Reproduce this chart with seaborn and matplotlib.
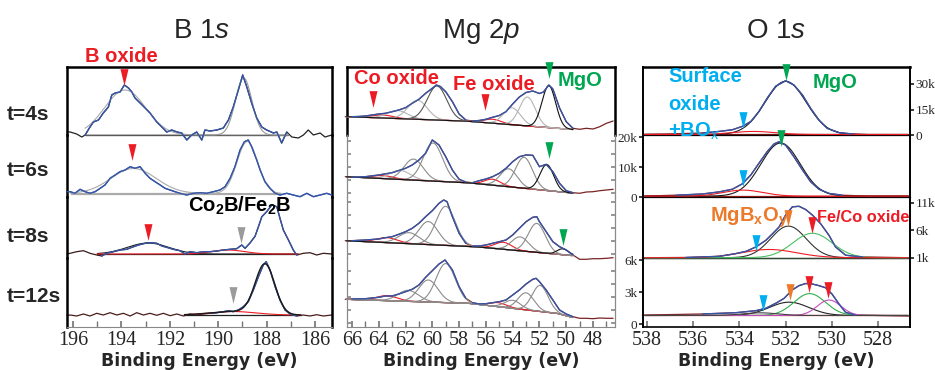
import numpy as np
import matplotlib
matplotlib.use("Agg")
import matplotlib.pyplot as plt
import seaborn as sns
from matplotlib.transforms import offset_copy
from matplotlib.font_manager import FontProperties

# ---------------- B 1s: binding energy (eV) / intensity (arb., px above row floor)
B4_E = [196.25, 196.12, 195.85, 195.64, 195.5, 195.3, 195.16, 194.95, 194.75, 194.54, 194.4, 194.26, 194.06,
        193.88, 193.71, 193.57, 193.44, 193.23, 193.02, 192.82, 192.54, 192.33, 192.13, 191.92, 191.71, 191.51,
        191.3, 191.1, 190.89, 190.68, 190.55, 190.34, 190.06, 189.79, 189.58, 189.38, 189.17, 188.99, 188.82,
        188.62, 188.41, 188.2, 188.0, 187.72, 187.58, 187.38, 187.17, 186.96, 186.69, 186.48, 186.28, 186.07,
        185.79, 185.59, 185.31]
B4_I = [3, 3, 1, -2, 0, 8, 13, 15, 22, 28, 40, 42, 43, 50, 47, 43, 37, 32, 27, 22, 13, 8, 3, 5, 3, 2, -5, 0, 3,
        -5, 5, 4, 5, 7, 15, 28, 45, 60, 48, 32, 17, 8, 5, 2, 3, -8, 3, -2, -3, 0, 5, 0, 2, -2, 0]
B6_E = [196.25, 196.12, 195.92, 195.71, 195.5, 195.3, 195.09, 194.88, 194.68, 194.47, 194.26, 194.06, 193.85,
        193.64, 193.44, 193.23, 193.02, 192.82, 192.61, 192.4, 192.2, 191.99, 191.79, 191.58, 191.3, 191.03,
        190.75, 190.48, 190.2, 189.93, 189.72, 189.51, 189.31, 189.1, 188.92, 188.76, 188.62, 188.41, 188.27,
        188.07, 187.86, 187.65, 187.45, 187.17, 186.9, 186.62, 186.34, 186.07, 185.79, 185.52, 185.31]
B6_I = [5.3, 5.3, 3.7, 7.7, 5.3, 3.7, 5.3, 8.7, 12, 18.7, 22, 25.3, 27, 30.3, 28.7, 30.3, 23.7, 18.7, 15.3, 12,
        8.7, 7, 5.3, 3.7, 2, 3.7, 4.3, 3.7, 5.3, 7, 10.3, 18.7, 30.3, 47, 55.3, 57, 50.3, 37, 27, 15.3, 8.7, 3.7,
        2, 3.7, 2, 0.3, 3.7, 0.3, 2, 3.7, 2]
B8_E = [196.25, 196.12, 195.85, 195.57, 195.3, 195.02, 194.81, 194.61, 194.33, 194.06, 193.78, 193.57, 193.3,
        193.02, 192.82, 192.54, 192.33, 192.13, 191.86, 191.58, 191.37, 191.17, 190.89, 190.62, 190.34, 190.06,
        189.79, 189.51, 189.24, 189.03, 188.89, 188.69, 188.48, 188.34, 188.2, 188.0, 187.79, 187.58, 187.45,
        187.31, 187.1, 186.9, 186.76, 186.48, 186.21, 185.93, 185.66, 185.31]
B8_I = [4, 4.7, 6.3, 7.3, 4.7, 3, 2, 4.7, 6.3, 8, 8.7, 10.7, 13, 14.7, 15.3, 14.7, 12, 10.7, 8.7, 7.3, 4, 6.3,
        5.3, 6.3, 6.3, 7, 8, 8.7, 9.3, 13, 9.7, 15, 21.7, 31.3, 41.3, 46.3, 53, 51.3, 39.7, 28, 18, 8, 3, 4.7,
        5.3, 3, 4.7, 4]
B12_E = [196.25, 196.12, 195.85, 195.57, 195.3, 195.02, 194.75, 194.47, 194.19, 193.92, 193.64, 193.37, 193.09,
         192.82, 192.54, 192.27, 191.99, 191.71, 191.44, 191.17, 190.89, 190.62, 190.34, 190.06, 189.79, 189.58,
         189.38, 189.17, 188.96, 188.76, 188.55, 188.34, 188.14, 188.02, 187.86, 187.65, 187.45, 187.24, 187.03,
         186.76, 186.5, 186.21, 185.93, 185.66, 185.31]
B12_I = [11.5, 12, 11, 13, 11, 13.7, 12, 14.3, 12, 13.7, 11, 14.3, 12, 13.7, 11.7, 13.7, 11.3, 13, 11, 13, 12, 13,
         13.7, 14.3, 15.3, 16.3, 15.3, 17, 20.3, 25.3, 37, 50.3, 62, 65.3, 57, 40.3, 27, 17, 13, 11, 12, 11, 12.3,
         11, 12]
# fitted peaks: (centre eV, height, FWHM eV, colour)
B4_FIT = [(193.85, 45, 2.0, "#aaaaaa"), (188.95, 57, 0.8, "#999999")]
B6_FIT = [(193.5, 25, 2.2, "#aaaaaa"), (188.8, 52, 1.0, "#aaaaaa")]
B8_FIT = [(192.9, 11, 2.0, "#222222"), (189.6, 4, 1.6, "#ec1c24")]
B12_FIT = [(188.07, 50, 0.95, None), (189.4, 3.5, 2.2, "#ec1c24")]

# ---------------- Mg 2p
M1_E = [66.5, 66.0, 65.5, 65.0, 64.5, 64.0, 63.5, 63.0, 62.5, 62.0, 61.5, 61.0, 60.5, 60.0, 59.7, 59.4, 59.0,
        58.5, 58.0, 57.5, 57.0, 56.5, 56.0, 55.5, 55.0, 54.5, 54.0, 53.5, 53.0, 52.5, 52.0, 51.7, 51.3, 51.0,
        50.5, 50.0, 49.5, 49.0, 48.5, 48.0, 47.5, 47.0, 46.5]
M1_I = [18.3, 18.3, 18.5, 19, 20, 21, 21.7, 23.3, 25, 27.3, 31.7, 35.7, 41.7, 46.7, 50, 48.5, 43.3, 33.3, 21, 15,
        14, 14.5, 15.7, 17.7, 19.5, 23.3, 31, 38, 42.5, 44, 41.5, 43, 50, 46, 27, 13.3, 6.7, 5.7, 6.7, 6, 8.3,
        11.7, 14]
M2_E = [66.5, 66.0, 65.0, 64.0, 63.0, 62.0, 61.5, 61.0, 60.5, 60.0, 59.5, 59.0, 58.5, 58.0, 57.5, 57.0, 56.5,
        56.0, 55.5, 55.0, 54.5, 54.0, 53.5, 53.0, 52.5, 52.0, 51.5, 51.0, 50.5, 50.0, 49.5, 49.0, 48.5, 48.0,
        47.5, 47.0, 46.5]
M2_I = [20.3, 19.7, 20.3, 22, 24.3, 28.7, 32, 37, 43.7, 57, 52, 40.3, 27, 17.7, 15, 14.3, 16.3, 18, 20.3, 23.7,
        28.7, 35.3, 40.3, 42, 41.7, 30.3, 32.7, 25.3, 13.7, 6.3, 4.3, 3.7, 5, 5.3, 6.3, 7, 7.7]
M3_E = [66.5, 66.0, 65.0, 64.0, 63.5, 63.0, 62.5, 62.0, 61.5, 61.0, 60.5, 60.0, 59.5, 59.15, 58.9, 58.5, 58.0,
        57.5, 57.0, 56.5, 56.0, 55.5, 55.0, 54.5, 54.0, 53.5, 53.0, 52.5, 52.2, 52.0, 51.5, 51.0, 50.5, 50.0,
        49.5, 49.0, 48.5, 48.0, 47.5, 47.0, 46.5]
M3_I = [17.3, 17.3, 18, 19, 20.3, 21.3, 23.7, 26.3, 29.7, 34.7, 41.3, 47.3, 54.7, 58, 56.3, 41.3, 24.7, 14.7, 12,
        12, 13, 14.7, 16.3, 18, 23, 29.7, 36.3, 40.7, 41.3, 36.3, 26.3, 16.3, 11.3, 8, 3, -1.3, -1.3, -0.7, -0.7,
        -0.3, 0.3]
M4_E = [66.5, 66.0, 65.0, 64.0, 63.5, 63.0, 62.5, 62.0, 61.5, 61.0, 60.5, 60.0, 59.5, 59.05, 58.5, 58.0, 57.5,
        57.0, 56.5, 56.0, 55.5, 55.0, 54.5, 54.0, 53.5, 53.0, 52.5, 52.25, 52.0, 51.5, 51.0, 50.5, 50.0, 49.5,
        49.0, 48.5, 48.0, 47.5, 47.0, 46.5]
M4_I = [27.7, 28, 28.3, 29.7, 31, 31, 33, 35.3, 37.7, 42, 49.7, 56.3, 63, 67, 57, 40.3, 28.7, 24.3, 23, 23.3,
        24.3, 25.3, 27, 32, 37, 43, 47.7, 48.7, 45.3, 37, 27, 17, 13, 10.3, 8.7, 8.7, 8.3, 9, 8.7, 8.7]
# background anchors (eV, intensity)
M1_BG = [(66.5, 18.4), (57.6, 14), (49.6, 5.5)]
M2_BG = [(66.5, 20.3), (57.4, 14.3), (49.6, 4)]
M3_BG = [(66.5, 17.3), (56.8, 11.3), (49.7, 2.5)]
M4_BG = [(66.5, 27.7), (57.3, 23.7), (50.7, 13.7), (49.5, 9.5)]
LG, MG, DG, K, R = "#b4b4b4", "#8c8c8c", "#555555", "#111111", "#ec1c24"
M1_FIT = [(63.7, 3, 1.8, R), (62.6, 8, 1.8, LG), (61.1, 19, 1.7, LG), (59.65, 34, 1.7, DG),
          (55.5, 4, 1.5, R), (54.05, 17, 1.5, LG), (52.9, 29, 1.4, LG), (51.3, 42, 1.2, K)]
M2_FIT = [(63.7, 3, 1.8, R), (62.4, 9, 1.8, LG), (61.4, 21, 1.7, MG), (59.95, 38, 1.7, MG),
          (55.5, 6, 1.4, R), (54.3, 18, 1.5, MG), (53.15, 31, 1.5, MG), (51.45, 26, 1.2, K)]
M3_FIT = [(63.4, 5, 1.8, R), (61.75, 11, 1.8, MG), (60.3, 23, 1.7, MG), (59.0, 39, 1.7, MG),
          (54.7, 7, 1.5, R), (53.45, 14, 1.5, MG), (52.2, 29, 1.5, MG), (50.25, 6, 1.0, K)]
M4_FIT = [(63.4, 5, 1.8, R), (61.8, 11, 1.8, MG), (60.3, 22, 1.7, MG), (59.0, 39, 1.7, MG),
          (55.1, 4, 1.5, R), (54.0, 8, 1.4, MG), (53.0, 17, 1.4, MG), (51.95, 26, 1.4, MG)]

# ---------------- O 1s (counts, thousands)
O1_E = [538.19, 537.04, 535.6, 534.88, 534.3, 533.87, 533.5, 533.15, 532.79, 532.43, 532.0, 531.64, 531.27,
        530.92, 530.56, 530.2, 529.69, 529.11, 528.4, 527.53, 526.67]
O1_I = [0.4, 0.6, 1.2, 2.1, 3.1, 5.1, 8.0, 13.9, 21.8, 28.7, 31.9, 29.4, 23.5, 15.7, 8.8, 3.9, 1.4, 0.6, 0.2, 0, 0]
O2_E = [538.19, 536.75, 535.6, 534.88, 534.3, 533.87, 533.5, 533.15, 532.79, 532.5, 532.29, 532.0, 531.64,
        531.27, 530.92, 530.56, 530.13, 529.55, 528.4, 526.67]
O2_I = [0.3, 0.6, 1.0, 1.7, 2.6, 4.4, 7.4, 11.3, 15.2, 17.7, 18.4, 17.3, 13.4, 9.0, 5.1, 2.6, 1.2, 0.6, 0.3, 0.3]
O3_E = [538.2, 536.32, 534.88, 534.16, 533.72, 533.29, 532.86, 532.57, 532.29, 532.0, 531.71, 531.42, 531.13,
        530.84, 530.48, 530.12, 529.84, 529.4, 528.68, 526.67]
O3_I = [1.05, 1.1, 1.3, 1.8, 2.2, 3.0, 4.2, 5.4, 6.6, 8.8, 10.3, 10.4, 9.8, 8.8, 7.2, 5.1, 3.0, 1.5, 1.2, 1.05]
O4_E = [538.2, 535.6, 534.16, 533.29, 532.86, 532.43, 532.07, 531.71, 531.42, 531.13, 530.84, 530.56, 530.27,
        529.99, 529.7, 529.41, 528.98, 526.67]
O4_I = [0.84, 0.94, 1.06, 1.25, 1.47, 1.94, 2.4, 3.2, 3.6, 3.8, 3.75, 3.6, 3.4, 2.8, 1.9, 1.1, 0.84, 0.75]
O1_FIT = [(532.0, 31.3, 2.1, "#1a1a2a"), (533.4, 1.8, 2.2, R)]
O2_FIT = [(532.22, 17.7, 2.0, "#1a1a1a"), (533.85, 2.0, 2.0, R)]
O3_FIT = [(531.88, 5.75, 1.8, "#333333"), (530.84, 4.45, 2.0, "#49c060"), (532.72, 1.5, 2.8, R)]
O4_FIT = [(531.85, 1.25, 2.0, "#222222"), (530.96, 2.05, 1.6, "#2fb04a"), (530.12, 1.45, 1.2, "#c04cc0"),
          (533.1, 0.25, 1.8, "#444444")]
O_TICKS = [[0, 15, 30], [0, 10, 20], [1, 6, 11], [0, 3, 6]]

# peak markers: (row, energy, tip height, colour)
B_MARKS = [(0, 193.88, 50, R), (1, 193.56, 37, R), (2, 192.89, 18, R), (2, 189.07, 15, "#9b9b9b"),
           (3, 189.4, 24, "#9b9b9b")]
M_MARKS = [(0, 64.4, 28, R), (0, 56.1, 25, R), (0, 51.3, 57, "#00a651"), (1, 51.3, 39, "#00a651"),
           (2, 50.25, 13, "#00a651")]
O_MARKS = [(0, 533.84, 3.9, "#00aeef"), (0, 532.0, 32.3, "#00a651"), (1, 533.84, 3.4, "#00aeef"),
           (1, 532.22, 17.0, "#00a651"), (2, 533.29, 2.15, "#00aeef"), (2, 531.88, 6.7, "#ec7a2a"),
           (2, 530.84, 5.4, R), (3, 532.97, 1.15, "#00aeef"), (3, 531.82, 2.25, "#ec7a2a"),
           (3, 531.0, 3.0, R), (3, 530.15, 2.4, R)]

sns.set_theme(style="white")
plt.rcParams["font.family"] = ["Liberation Sans", "DejaVu Sans"]
plt.rcParams["font.serif"] = ["Liberation Serif", "DejaVu Serif"]
plt.rcParams["mathtext.fontset"] = "custom"
plt.rcParams["mathtext.rm"] = "Liberation Sans"
plt.rcParams["mathtext.it"] = "Liberation Sans:italic"
plt.rcParams["mathtext.bf"] = "Liberation Sans:bold"

BLUE = "#3556a8"
W, H = 935, 370
TRI = [(-0.24, 0.5), (0.24, 0.5), (0, -0.5)]
ROWS = [(67, 135), (135, 197), (197, 258), (258, 327)]
SERIF = ["Liberation Serif", "DejaVu Serif", "serif"]
XTICK_FONT = FontProperties(family=SERIF, size=14.5)
YTICK_FONT = FontProperties(family=SERIF, size=9.5)

fig = plt.figure(figsize=(W / 100, H / 100), dpi=100)


def add_row(x0, x1, r):
    y0, y1 = ROWS[r]
    ax = fig.add_axes([x0 / W, 1 - y1 / H, (x1 - x0) / W, (y1 - y0) / H])
    ax.set_facecolor("none")
    return ax


def gauss(e, c, h, w):
    return h * np.exp(-4 * np.log(2) * ((e - c) / w) ** 2)


def line(ax, x, y, color, lw, z=3):
    sns.lineplot(x=np.asarray(x, float), y=np.asarray(y, float), ax=ax, color=color, linewidth=lw,
                 estimator=None, sort=False, clip_on=False, zorder=z)


def mark(ax, e, tip, color):
    tr = offset_copy(ax.transData, fig=fig, x=0, y=8.5, units="dots")
    ax.plot([e], [tip], marker=TRI, ms=12, color=color, mec="none", ls="none", transform=tr,
            clip_on=False, zorder=8)


def draw_row(ax, E, I, raw, windows, fit, bg, env, fit_win):
    E = np.asarray(E, float)
    I = np.asarray(I, float)
    line(ax, E, I, raw, 0.9, 2)
    hi, lo = fit_win
    g = np.linspace(hi, lo, 500)
    if isinstance(bg, tuple):
        base = np.full_like(g, bg[0])
        bgcol = bg[1]
    else:
        be, bv = zip(*bg)
        base = np.interp(g, be[::-1], bv[::-1])
        bgcol = "#5a1818"
    line(ax, g, base, bgcol, 0.9, 3)
    total = base.copy()
    for c, h, w, col in fit:
        comp = gauss(g, c, h, w)
        total += comp
        if col:
            line(ax, g, base + comp, col, 0.8, 3)
    for w0, w1 in windows:
        m = (E <= w0) & (E >= w1)
        line(ax, E[m], I[m], BLUE, 1.0, 4)
    if env:
        line(ax, g, total, env, 1.0, 5)


def style(ax, xlim, r, side_col="black", side_lw=1.8):
    ax.set_xlim(*xlim)
    for s in ("left", "right"):
        ax.spines[s].set_color(side_col)
        ax.spines[s].set_linewidth(side_lw)
    ax.spines["top"].set_visible(r == 0)
    ax.spines["top"].set_linewidth(1.8)
    ax.spines["top"].set_color("black")
    ax.spines["bottom"].set_visible(r == 3)
    ax.spines["bottom"].set_color("#888888")
    ax.spines["bottom"].set_linewidth(0.8)
    ax.tick_params(bottom=False, labelbottom=False, left=False, labelleft=False)


def bottom_axis(ax, ticks, minor):
    ax.tick_params(axis="x", which="both", bottom=True, labelbottom=True, direction="in", length=4,
                   color="#777777", pad=3)
    ax.set_xticks(ticks, [str(t) for t in ticks], fontproperties=XTICK_FONT)
    if minor:
        ax.set_xticks(minor, minor=True)
    ax.set_xlabel("Binding Energy (eV)", fontfamily="DejaVu Sans", fontweight="bold", fontsize=12.5,
                  labelpad=1)


# ---- B 1s column
B_ROWS = [(B4_E, B4_I, "#222222", [(195.5, 187.1)], B4_FIT, (0, "#111111"), None),
          (B6_E, B6_I, BLUE, [(196.3, 185.3)], B6_FIT, (3.5, "#aaaaaa"), None),
          (B8_E, B8_I, "#3a1a1a", [(195.0, 186.7)], B8_FIT, (4, "#222222"), None),
          (B12_E, B12_I, "#4a1c1c", [(190.4, 186.6)], B12_FIT, (12, "#222222"), "#1a1a1a")]
B_FITWIN = [(195.5, 187.1), (196.1, 187.4), (195.0, 186.7), (191.4, 186.6)]
b_axes = []
for r, (E, I, raw, win, fit, base, env) in enumerate(B_ROWS):
    ax = add_row(67, 332, r)
    draw_row(ax, E, I, raw, win, fit, base, env, B_FITWIN[r])
    ax.set_ylim(0, ROWS[r][1] - ROWS[r][0])
    style(ax, (196.25, 185.3), r)
    b_axes.append(ax)
for r, e, tip, col in B_MARKS:
    mark(b_axes[r], e, tip, col)
bottom_axis(b_axes[3], [196, 194, 192, 190, 188, 186], list(range(186, 197)))

# ---- Mg 2p column
M_ROWS = [(M1_E, M1_I, M1_FIT, M1_BG), (M2_E, M2_I, M2_FIT, M2_BG),
          (M3_E, M3_I, M3_FIT, M3_BG), (M4_E, M4_I, M4_FIT, M4_BG)]
m_axes = []
for r, (E, I, fit, bg) in enumerate(M_ROWS):
    ax = add_row(347, 615, r)
    draw_row(ax, E, I, "#7a2323", [(66.4, 57.3), (57.0, 49.5)], fit, bg, None, (66.4, 49.5))
    ax.set_ylim(0, ROWS[r][1] - ROWS[r][0])
    if r == 0:
        style(ax, (66.37, 46.36), r)
    else:
        style(ax, (66.37, 46.36), r, side_col="#8a8a8a", side_lw=0.9)
        ax.set_yticks(np.arange(4, ROWS[r][1] - ROWS[r][0], 13))
        ax.tick_params(axis="y", left=True, right=True, direction="in", length=3, color="#8a8a8a",
                       labelleft=False)
    m_axes.append(ax)
for r, e, tip, col in M_MARKS:
    mark(m_axes[r], e, tip, col)
bottom_axis(m_axes[3], [66, 64, 62, 60, 58, 56, 54, 52, 50, 48], list(range(47, 67)))

# ---- O 1s column
O_ROWS = [(O1_E, O1_I, O1_FIT, (0.3, "#6a1414")), (O2_E, O2_I, O2_FIT, (0.3, "#8b1a1a")),
          (O3_E, O3_I, O3_FIT, (1.05, "#2c4a33")), (O4_E, O4_I, O4_FIT, (0.8, "#c0262b"))]
O_YLIM = [(0, 40.0), (0, 20.67), (1, 12.09), (-0.28, 6.19)]
o_axes = []
for r, (E, I, fit, base) in enumerate(O_ROWS):
    ax = add_row(643, 910, r)
    draw_row(ax, E, I, "#8b1a1a", [(537.0, 528.6)], fit, base, None, (538.1, 526.7))
    ax.set_ylim(*O_YLIM[r])
    style(ax, (538.17, 526.62), r, side_lw=1.4)
    ax.spines["bottom"].set_visible(True)
    ax.spines["bottom"].set_color("black")
    ax.spines["bottom"].set_linewidth(0.9 if r < 3 else 1.2)
    if r % 2 == 0:
        ax.tick_params(axis="y", right=True, labelright=True, left=False, labelleft=False,
                       direction="out", length=3, pad=1)
    else:
        ax.tick_params(axis="y", left=True, labelleft=True, direction="out", length=3, pad=1)
    labels = ["0" if t == 0 else f"{t}k" for t in O_TICKS[r]]
    ax.set_yticks(O_TICKS[r], labels, fontproperties=YTICK_FONT)
    o_axes.append(ax)
for r, e, tip, col in O_MARKS:
    mark(o_axes[r], e, tip, col)
bottom_axis(o_axes[3], [538, 536, 534, 532, 530, 528], None)

# make sure every tick label (incl. right-hand copies) keeps the serif face
for ax in (b_axes[3], m_axes[3], o_axes[3]):
    for t in ax.xaxis.get_major_ticks():
        t.label1.set_fontproperties(XTICK_FONT)
for ax in o_axes:
    for t in ax.yaxis.get_major_ticks():
        t.label1.set_fontproperties(YTICK_FONT)
        t.label2.set_fontproperties(YTICK_FONT)


# ---- texts
def ftext(x, y, s, **kw):
    fig.text(x / W, 1 - y / H, s, **kw)


for x, s in [(201, r"B 1$\mathit{s}$"), (481, r"Mg 2$\mathit{p}$"), (776, r"O 1$\mathit{s}$")]:
    ftext(x, 31, s, ha="center", va="center", fontsize=20)
for y, s in [(115, "t=4s"), (171, "t=6s"), (236.5, "t=8s"), (297, "t=12s")]:
    ftext(7, y, s, ha="left", va="center", fontsize=15, fontweight="bold")

ann = dict(fontsize=14.5, fontweight="bold")
ftext(121, 57, "B oxide", ha="center", va="center", color=R, **ann)
ftext(188, 212, r"Co$_\mathbf{2}$B/Fe$_\mathbf{2}$B", ha="left", va="baseline", color="black", **ann)
ftext(396, 79, "Co oxide", ha="center", va="center", color=R, **ann)
ftext(494, 84, "Fe oxide", ha="center", va="center", color=R, **ann)
ftext(580, 80, "MgO", ha="center", va="center", color="#00a651", **ann)
ftext(668, 82, "Surface", ha="left", va="baseline", color="#00aeef", **ann)
ftext(668, 110, "oxide", ha="left", va="baseline", color="#00aeef", **ann)
ftext(668, 137, r"+BO$_\mathrm{x}$", ha="left", va="baseline", color="#00aeef", **ann)
ftext(835, 82, "MgO", ha="center", va="center", color="#00a651", **ann)
ftext(710, 222, r"MgB$_\mathbf{x}$O$_\mathbf{y}$", ha="left", va="baseline", color="#ec7a2a", **ann)
ftext(817, 222, "Fe/Co oxide", ha="left", va="baseline", color=R, fontsize=11.8, fontweight="bold")

fig.savefig("out.png", dpi=100)
